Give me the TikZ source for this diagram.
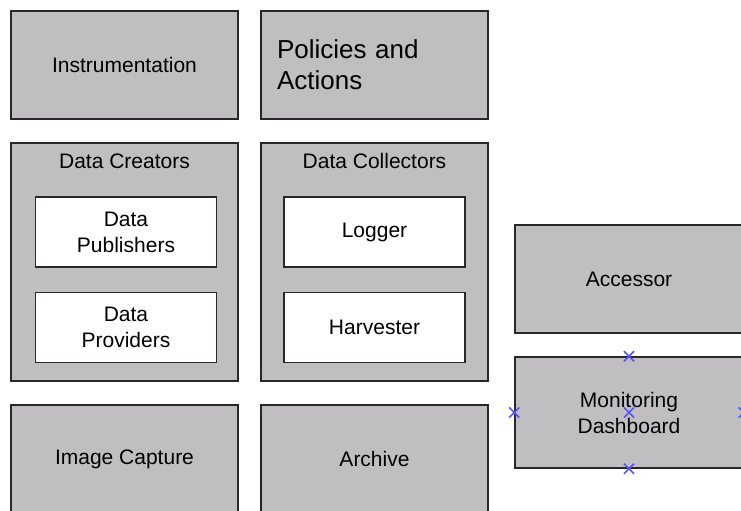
\documentclass[tikz,border=0pt]{standalone}
\usepackage{fontspec}
\setmainfont{Liberation Sans}
\usepackage{tikz}
\usetikzlibrary{positioning,shapes.misc}
\definecolor{boxgray}{RGB}{192,190,193}
\definecolor{edgegray}{RGB}{40,40,40}
\definecolor{handleblue}{RGB}{85,85,250}

\begin{document}
\begin{tikzpicture}[x=0.75pt, y=-0.75pt,
    blocco/.style={draw=edgegray, fill=boxgray, line width=1.1pt, inner sep=0pt,
        minimum width=170.25pt, minimum height=81pt, align=center,
        font=\fontsize{15.75}{19.5}\selectfont},
    contenitore/.style={blocco, minimum height=178.5pt},
    interno/.style={blocco, fill=white, minimum width=135.75pt, minimum height=52.5pt},
    titolo/.style={anchor=center, yshift=-14.25pt, font=\fontsize{15.75}{19.5}\selectfont},
    maniglia/.style={cross out, draw=handleblue, line width=1.1pt, minimum size=6.5pt, inner sep=0pt}]
    \useasboundingbox (0,0) rectangle (741,510);
    % Riga in alto
    \node[blocco] (instr) at (124.5,65) {Instrumentation};
    \node[blocco, align=left, inner xsep=12pt, text width=146.25pt,
        font=\fontsize{19.5}{23.25}\selectfont] (policies) at (374.5,65) {Policies and\\Actions};
    % Contenitori con i blocchi interni
    \node[contenitore, label={[titolo]north:Data Creators}] (creators) at (124.5,262) {};
    \node[contenitore, label={[titolo]north:Data Collectors}] (collectors) at (374.5,262) {};
    \node[interno] (publishers) at (126,232) {Data\\Publishers};
    \node[interno] (providers) at (126,327.5) {Data\\Providers};
    \node[interno] (logger) at (374.5,232) {Logger};
    \node[interno] (harvester) at (374.5,327.5) {Harvester};
    % Riga in basso
    \node[blocco] (capture) at (124.5,459) {Image Capture};
    \node[blocco] (archive) at (374.5,459) {Archive};
    % Colonna a destra
    \node[blocco, minimum width=171pt] (accessor) at (629,279) {Accessor};
    \node[blocco, minimum width=171pt, minimum height=83.25pt] (dashboard) at (629,412.5) {Monitoring\\Dashboard};
    % Maniglie di selezione
    \foreach \a in {north,south,east,west,center}
        \node[maniglia] at (dashboard.\a) {};
\end{tikzpicture}
\end{document}
